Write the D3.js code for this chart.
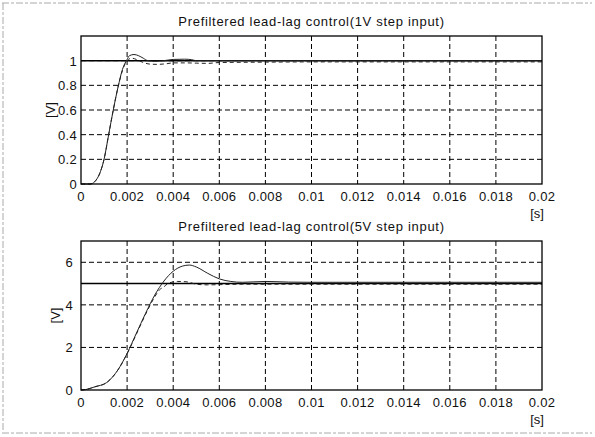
<!DOCTYPE html>
<html>
<head>
<meta charset="utf-8">
<script src="https://cdn.jsdelivr.net/npm/d3@7"></script>
<style>
  body { margin: 0; background: #fff; }
  svg { display: block; }
  text { font-family: "Liberation Sans", Arial, sans-serif; fill: #111; }
</style>
</head>
<body>
<svg id="chart" width="595" height="437"></svg>
<script>
// time axis ticks (s)
const xTicks = [0, 0.002, 0.004, 0.006, 0.008, 0.01, 0.012, 0.014, 0.016, 0.018, 0.02]
const xTickLabels = ['0', '0.002', '0.004', '0.006', '0.008', '0.01', '0.012', '0.014', '0.016', '0.018', '0.02']

// 1V step input
const topTicks = [0, 0.2, 0.4, 0.6, 0.8, 1]
const topTickLabels = ['0', '0.2', '0.4', '0.6', '0.8', '1']
const topRefT = [0, 0.02]
const topRefV = [1, 1]
const topSolidT = [0, 0.0004, 0.0006, 0.0008, 0.001, 0.0012, 0.0014, 0.0016, 0.0018, 0.002, 0.0021, 0.0023, 0.0025, 0.0027, 0.0029, 0.0032, 0.0036, 0.004, 0.0045, 0.0048, 0.005, 0.006, 0.008, 0.01, 0.02]
const topSolidV = [0, 0, 0.02, 0.08, 0.2, 0.4, 0.6, 0.78, 0.93, 1.01, 1.04, 1.05, 1.04, 1.02, 1.0, 0.995, 1.0, 1.01, 1.012, 1.008, 1.0, 1.0, 1.0, 1.0, 1.0]
const topDashT = [0, 0.0004, 0.0006, 0.0008, 0.001, 0.0012, 0.0014, 0.0016, 0.0018, 0.002, 0.0022, 0.0024, 0.0027, 0.003, 0.0033, 0.0037, 0.004, 0.0045, 0.005, 0.0055, 0.006, 0.008, 0.01, 0.02]
const topDashV = [0, 0, 0.02, 0.08, 0.2, 0.4, 0.6, 0.78, 0.92, 1.0, 1.02, 1.01, 0.985, 0.972, 0.97, 0.975, 0.982, 0.982, 0.98, 0.978, 0.985, 0.988, 0.99, 0.99]

// 5V step input
const botTicks = [0, 2, 4, 6]
const botTickLabels = ['0', '2', '4', '6']
const botRefT = [0, 0.02]
const botRefV = [5, 5]
const botSolidT = [0, 0.0002, 0.0006, 0.0011, 0.0014, 0.0016, 0.002, 0.0024, 0.0028, 0.0032, 0.0036, 0.004, 0.0044, 0.0047, 0.005, 0.0055, 0.006, 0.0065, 0.007, 0.008, 0.009, 0.01, 0.02]
const botSolidV = [0, 0.02, 0.15, 0.34, 0.65, 0.94, 1.72, 2.66, 3.6, 4.46, 5.12, 5.58, 5.82, 5.87, 5.78, 5.48, 5.22, 5.1, 5.06, 5.1, 5.07, 5.06, 5.06]
const botDashT = [0, 0.0002, 0.0006, 0.0011, 0.0014, 0.0016, 0.002, 0.0024, 0.0028, 0.0032, 0.0034, 0.0036, 0.0038, 0.0042, 0.0046, 0.005, 0.0055, 0.006, 0.007, 0.02]
const botDashV = [0, 0.02, 0.15, 0.34, 0.65, 0.94, 1.7, 2.62, 3.55, 4.38, 4.7, 4.85, 5.02, 5.1, 5.08, 4.97, 4.94, 4.95, 4.97, 4.97]

const panels = [
  {
    title: 'Prefiltered lead-lag control(1V step input)',
    top: 36, bottom: 184, yMax: 1.2,
    yTicks: topTicks, yLabels: topTickLabels, yLabelEnd: 77, vLabelX: 55,
    ref: [topRefT, topRefV], solid: [topSolidT, topSolidV], dash: [topDashT, topDashV]
  },
  {
    title: 'Prefiltered lead-lag control(5V step input)',
    top: 241, bottom: 390, yMax: 7,
    yTicks: botTicks, yLabels: botTickLabels, yLabelEnd: 73, vLabelX: 60,
    ref: [botRefT, botRefV], solid: [botSolidT, botSolidV], dash: [botDashT, botDashV]
  }
]

const left = 81, right = 542
const svg = d3.select('#chart')

// scanned page frame
svg.append('path')
  .attr('d', 'M2,3 H592 M3,3 V432 M2,433 H592')
  .attr('fill', 'none')
  .attr('stroke', '#aaa')
  .attr('stroke-width', 1)
  .attr('stroke-dasharray', '7,2,3,2')

const x = d3.scaleLinear().domain([0, 0.02]).range([left, right])

panels.forEach(p => {
  const y = d3.scaleLinear().domain([0, p.yMax]).range([p.bottom, p.top])
  const g = svg.append('g')

  // grid
  g.selectAll('.gx').data(xTicks.slice(1, -1)).enter().append('line')
    .attr('x1', d => x(d)).attr('x2', d => x(d))
    .attr('y1', p.top).attr('y2', p.bottom)
    .attr('stroke', '#000').attr('stroke-width', 1).attr('stroke-dasharray', '5,3')
  g.selectAll('.gy').data(p.yTicks.slice(1)).enter().append('line')
    .attr('x1', left).attr('x2', right)
    .attr('y1', d => y(d)).attr('y2', d => y(d))
    .attr('stroke', '#000').attr('stroke-width', 1).attr('stroke-dasharray', '5,3')

  // curves
  const line = d3.line().x(d => x(d[0])).y(d => y(d[1])).curve(d3.curveMonotoneX)
  const pts = s => s[0].map((t, i) => [t, s[1][i]])
  g.append('path').datum(pts(p.ref)).attr('d', line)
    .attr('fill', 'none').attr('stroke', '#000').attr('stroke-width', 1.5)
  g.append('path').datum(pts(p.dash)).attr('d', line)
    .attr('fill', 'none').attr('stroke', '#222').attr('stroke-width', 1).attr('stroke-dasharray', '4,3')
  g.append('path').datum(pts(p.solid)).attr('d', line)
    .attr('fill', 'none').attr('stroke', '#222').attr('stroke-width', 1)

  // axes box
  g.append('rect')
    .attr('x', left).attr('y', p.top)
    .attr('width', right - left).attr('height', p.bottom - p.top)
    .attr('fill', 'none').attr('stroke', '#000').attr('stroke-width', 1.3)

  // tick labels
  g.selectAll('.xl').data(xTicks).enter().append('text')
    .attr('x', d => x(d)).attr('y', p.bottom + 17)
    .attr('text-anchor', 'middle').attr('font-size', 13).attr('letter-spacing', 0.3)
    .text((d, i) => xTickLabels[i])
  g.selectAll('.yl').data(p.yTicks).enter().append('text')
    .attr('x', p.yLabelEnd).attr('y', d => y(d) + 5)
    .attr('text-anchor', 'end').attr('font-size', 13).attr('letter-spacing', 0.3)
    .text((d, i) => p.yLabels[i])

  // labels
  g.append('text')
    .attr('x', (left + right) / 2).attr('y', p.top - 10)
    .attr('text-anchor', 'middle').attr('font-size', 13).attr('letter-spacing', 0.7)
    .text(p.title)
  g.append('text')
    .attr('x', 537).attr('y', p.bottom + 34)
    .attr('text-anchor', 'middle').attr('font-size', 13)
    .text('[s]')
  g.append('text')
    .attr('transform', `translate(${p.vLabelX},${(p.top + p.bottom) / 2}) rotate(-90)`)
    .attr('text-anchor', 'middle').attr('font-size', 13)
    .text('[V]')
})
</script>
</body>
</html>
